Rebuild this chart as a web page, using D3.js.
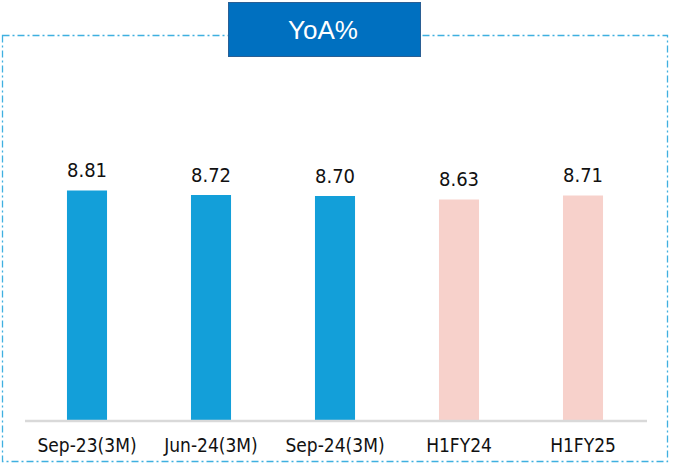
<!DOCTYPE html>
<html>
<head>
<meta charset="utf-8">
<script src="https://cdn.jsdelivr.net/npm/d3@7/dist/d3.min.js"></script>
<style>
  html, body { margin: 0; padding: 0; background: #fff; }
  svg { display: block; }
</style>
</head>
<body>
<svg id="chart" width="674" height="466"></svg>
<script>
const categories = ["Sep-23(3M)", "Jun-24(3M)", "Sep-24(3M)", "H1FY24", "H1FY25"];
const values = [8.81, 8.72, 8.70, 8.63, 8.71];
const barColors = ["#139fd9", "#139fd9", "#139fd9", "#f7d1cb", "#f7d1cb"];
const title = "YoA%";

const svg = d3.select("#chart");

// frame (dash-dot border)
svg.append("rect")
  .attr("x", 2.5).attr("y", 35.5)
  .attr("width", 665).attr("height", 426)
  .attr("fill", "none")
  .attr("stroke", "#3fb0e0")
  .attr("stroke-width", 1.3)
  .attr("stroke-dasharray", "7,3,2,3");

// title box
const tb = svg.append("g");
tb.append("rect")
  .attr("x", 228.5).attr("y", 2.5)
  .attr("width", 192).attr("height", 54)
  .attr("fill", "#0070c0")
  .attr("stroke", "#2a5f94")
  .attr("stroke-width", 1);
tb.append("text")
  .attr("x", 323).attr("y", 38.5)
  .attr("text-anchor", "middle")
  .attr("fill", "#ffffff")
  .attr("font-family", "'Liberation Sans Narrow', 'Liberation Sans', Arial, sans-serif")
  .attr("font-size", 26)
  .text(title);

const x = d3.scaleBand()
  .domain(categories)
  .range([25, 645])
  .paddingInner(0.677)
  .paddingOuter(0.3385);

const y = d3.scaleLinear()
  .domain([4.2, 9.0])
  .range([421, 181]);

// bars
svg.append("g").selectAll("rect")
  .data(categories)
  .join("rect")
  .attr("x", d => x(d))
  .attr("y", (d, i) => y(values[i]))
  .attr("width", x.bandwidth())
  .attr("height", (d, i) => y(y.domain()[0]) - y(values[i]))
  .attr("fill", (d, i) => barColors[i]);

// value labels
svg.append("g").selectAll("text")
  .data(categories)
  .join("text")
  .attr("x", d => x(d) + x.bandwidth() / 2)
  .attr("y", (d, i) => y(values[i]) - 13.5)
  .attr("text-anchor", "middle")
  .attr("font-family", "'DejaVu Sans Condensed', 'DejaVu Sans', sans-serif")
  .attr("font-size", 20)
  .attr("fill", "#111")
  .text((d, i) => values[i].toFixed(2));

// x axis
const xAxis = d3.axisBottom(x).tickSize(0).tickPadding(17.5);
const ax = svg.append("g")
  .attr("transform", `translate(0,${y(y.domain()[0])})`)
  .call(xAxis);
ax.select(".domain")
  .attr("stroke", "#d9d9d9")
  .attr("stroke-width", 2.5)
  .attr("d", "M25,0H647");
ax.selectAll("text")
  .attr("font-family", "'DejaVu Sans Condensed', 'DejaVu Sans', sans-serif")
  .attr("font-size", 19)
  .attr("fill", "#111");
</script>
</body>
</html>
